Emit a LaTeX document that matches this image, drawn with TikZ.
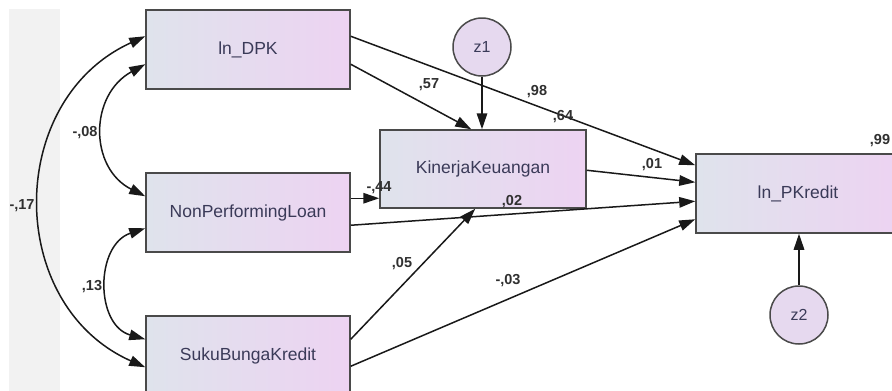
\documentclass[tikz,border=0pt]{standalone}
\usepackage{fontspec}
\setmainfont{Liberation Sans}
\usetikzlibrary{arrows.meta,calc}
\definecolor{boxL}{HTML}{DFE3EC}
\definecolor{boxR}{HTML}{EDD3F2}
\definecolor{circ}{HTML}{E6D9EF}
\definecolor{boxline}{HTML}{4A4A4A}
\definecolor{boxtext}{HTML}{3A3A58}
\definecolor{labtext}{HTML}{303030}
\definecolor{strip}{HTML}{F2F2F2}
\begin{document}
\begin{tikzpicture}[x=1pt,y=-1pt,
  box/.style={draw=boxline, line width=1.5pt, left color=boxL, right color=boxR,
    minimum width=204pt, minimum height=79pt, inner sep=0pt, text=boxtext,
    font=\fontsize{17.5}{20}\selectfont},
  errc/.style={circle, draw=boxline, line width=1.5pt, fill=circ, minimum size=58pt,
    inner sep=0pt, text=boxtext, font=\fontsize{16}{18}\selectfont},
  conn/.style={draw=black!90, line width=1.5pt, -{Triangle[length=16pt,width=10.5pt]}},
  cov/.style={draw=black!90, line width=1.5pt, {Triangle[length=16pt,width=10.5pt]}-{Triangle[length=16pt,width=10.5pt]}},
  lab/.style={font=\fontsize{14.5}{16}\selectfont\bfseries, text=labtext, inner sep=0pt}]
\useasboundingbox (0,0) rectangle (892,391);
\fill[white] (0,0) rectangle (892,391);
\fill[strip] (9,9) rectangle (60,391);
\begin{scope}
\clip (0,0) rectangle (892,391);
\node[box] (dpk) at (248,49.5) {ln\_DPK};
\node[box] (npl) at (248,212.5) {NonPerformingLoan};
\node[box] (sbk) at (248,355.5) {SukuBungaKredit};
\node[box, minimum width=206pt, minimum height=78pt] (kk) at (483,169) {KinerjaKeuangan};
\node[box] (pk) at (798,193.5) {ln\_PKredit};
\end{scope}
\node[errc] (z1) at (482,47) {z1};
\node[errc] (z2) at (799,315) {z2};
% paths
\draw[conn] ($(dpk.north east)+(0,27)$) -- ($(pk.north west)+(0,12)$);
\draw[conn] ($(dpk.north east)+(0,55)$) -- ($(kk.north west)+(92,0)$);
\draw[conn] (z1.south) -- (z1.south |- kk.north);
\draw[conn] ($(kk.north east)+(0,41)$) -- ($(pk.north west)+(0,29)$);
\draw[conn] ($(npl.north east)+(0,26)$) -- ($(kk.north west)+(0,69)$);
\draw[conn] ($(npl.north east)+(0,53)$) -- ($(pk.north west)+(0,48)$);
\draw[conn] ($(sbk.north east)+(0,24)$) -- ($(kk.south west)+(96,0)$);
\draw[conn] ($(sbk.north east)+(0,51)$) -- ($(pk.north west)+(0,66)$);
\draw[conn] (z2.north) -- (z2.north |- pk.south);
% covariances
\draw[cov] ($(dpk.north west)+(0,55)$) .. controls (89,95) and (89,168) .. ($(npl.north west)+(0,24)$);
\draw[cov] ($(dpk.north west)+(0,27)$) .. controls (5,100) and (5,305) .. ($(sbk.north west)+(0,52)$);
\draw[cov] ($(npl.north west)+(0,56)$) .. controls (95,245) and (95,325) .. ($(sbk.north west)+(0,24)$);
% labels
\node[lab] (l57) at (429,85) {,57};
\node[lab] (l98) at (537,92) {,98};
\node[lab] (l64) at (563,117) {,64};
\node[lab] (l01) at (652,165) {,01};
\node[lab] (l99) at (880,141) {,99};
\node[lab] (l44) at (379,188) {-,44};
\node[lab] (l02) at (512,202) {,02};
\node[lab] (l05) at (402,264) {,05};
\node[lab] (l03) at (508,281) {-,03};
\node[lab] (l08) at (85,133) {-,08};
\node[lab] (l17) at (22,206) {-,17};
\node[lab] (l13) at (92,287) {,13};
\end{tikzpicture}
\end{document}
